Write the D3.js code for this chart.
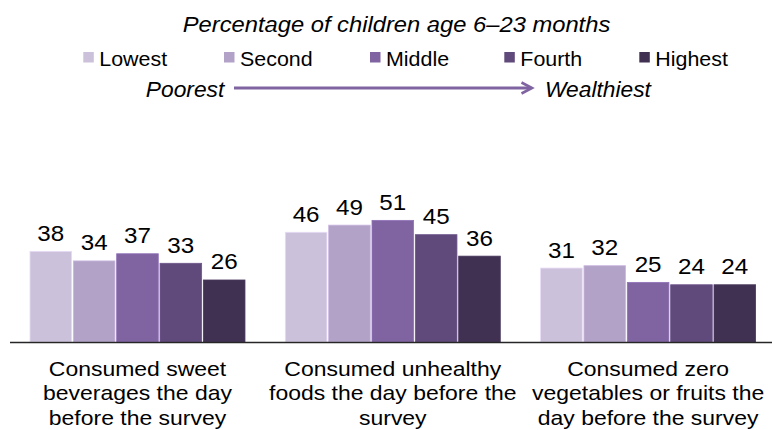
<!DOCTYPE html>
<html>
<head>
<meta charset="utf-8">
<script src="https://cdn.jsdelivr.net/npm/d3@7"></script>
<style>
  html, body { margin: 0; padding: 0; background: #fff; }
  svg { display: block; }
  text { font-family: "Liberation Sans", Arial, sans-serif; fill: #000; }
</style>
</head>
<body>
<svg id="chart" width="772" height="430"></svg>
<script>
// ---- Data ----
const title = "Percentage of children age 6–23 months";
const seriesNames = ["Lowest", "Second", "Middle", "Fourth", "Highest"];
const seriesColors = ["#ccc1da", "#b3a2c7", "#8064a2", "#604a7b", "#403152"];
const categories = ["sweet", "unhealthy", "zero"];
const categoryLabels = [
  ["Consumed sweet", "beverages the day", "before the survey"],
  ["Consumed unhealthy", "foods the day before the", "survey"],
  ["Consumed zero", "vegetables or fruits the", "day before the survey"]
];
const lowestValues  = [38, 46, 31];
const secondValues  = [34, 49, 32];
const middleValues  = [37, 51, 25];
const fourthValues  = [33, 45, 24];
const highestValues = [26, 36, 24];
const arrowLeft = "Poorest";
const arrowRight = "Wealthiest";

const seriesValues = [lowestValues, secondValues, middleValues, fourthValues, highestValues];

// ---- Layout ----
const svg = d3.select("#chart");
const baseY = 342;

const x0 = d3.scaleBand().domain(categories).range([30, 755.6]).paddingInner(0.158).paddingOuter(0);
const x1 = d3.scaleBand().domain(seriesNames).range([0, x0.bandwidth()]).paddingInner(0.04).paddingOuter(0);
const y = d3.scaleLinear().domain([0, 60]).range([baseY, baseY - 143.1]);

function placeText(sel, x, yy, s) {
  return sel.attr("transform", `translate(${x},${yy}) scale(${s},1)`);
}

// Title
placeText(svg.append("text").attr("text-anchor", "middle").attr("font-style", "italic")
  .attr("font-size", 22).text(title), 396.5, 32.3, 1.08);

// Legend
const legendX = [83.3, 224, 370, 504.3, 639.3];
seriesNames.forEach((name, i) => {
  svg.append("rect").attr("x", legendX[i]).attr("y", 52).attr("width", 10.5).attr("height", 10.5)
    .attr("fill", seriesColors[i]);
  placeText(svg.append("text").attr("font-size", 21).text(name), legendX[i] + 16, 65.5, 1.02);
});

// Poorest -> Wealthiest arrow
placeText(svg.append("text").attr("text-anchor", "end").attr("font-style", "italic")
  .attr("font-size", 21.5).text(arrowLeft), 224.3, 96.7, 1.06);
placeText(svg.append("text").attr("text-anchor", "start").attr("font-style", "italic")
  .attr("font-size", 21.5).text(arrowRight), 545, 96.7, 1.06);
svg.append("line").attr("x1", 234).attr("x2", 531.5).attr("y1", 88).attr("y2", 88)
  .attr("stroke", "#8064a2").attr("stroke-width", 3);
svg.append("path").attr("d", "M521.5,82.5 L532,88 L521.5,93.5")
  .attr("fill", "none").attr("stroke", "#8064a2").attr("stroke-width", 2.6);

// Bars
const groups = svg.append("g").selectAll("g").data(categories).join("g")
  .attr("transform", c => `translate(${x0(c)},0)`);

groups.each(function(c, ci) {
  const g = d3.select(this);
  const rows = seriesNames.map((s, si) => ({ s, si, v: seriesValues[si][ci] }));
  g.selectAll("rect").data(rows).join("rect")
    .attr("x", d => x1(d.s))
    .attr("y", d => y(d.v))
    .attr("width", x1.bandwidth())
    .attr("height", d => baseY - y(d.v))
    .attr("fill", d => seriesColors[d.si])
    .attr("stroke", d => d3.color(seriesColors[d.si]).brighter(0.35))
    .attr("stroke-width", 0.8);
  rows.forEach(d => {
    placeText(g.append("text").attr("text-anchor", "middle").attr("font-size", 22).text(d.v),
      x1(d.s) + x1.bandwidth() / 2, y(d.v) - 10.5, 1.1);
  });
});

// Axis line
svg.append("line").attr("x1", 10).attr("x2", 772).attr("y1", baseY + 0.5).attr("y2", baseY + 0.5)
  .attr("stroke", "#262626").attr("stroke-width", 1.3);

// Category labels
categories.forEach((c, ci) => {
  const cx = x0(c) + x0.bandwidth() / 2;
  categoryLabels[ci].forEach((line, li) => {
    placeText(svg.append("text").attr("text-anchor", "middle").attr("font-size", 20.5).text(line),
      cx, 375.5 + li * 24.5, 1.12);
  });
});
</script>
</body>
</html>
